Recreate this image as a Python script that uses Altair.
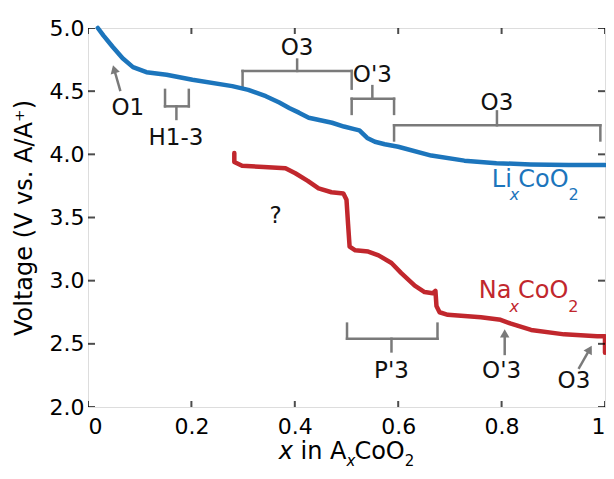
import math
import altair as alt
import pandas as pd

# ---------------- data ----------------
li_x = [0.019, 0.030, 0.048, 0.067, 0.087, 0.113, 0.152, 0.202, 0.279, 0.310, 0.344, 0.370,
        0.390, 0.408, 0.427, 0.472, 0.495, 0.515, 0.525, 0.540, 0.555, 0.574, 0.600, 0.664,
        0.728, 0.790, 0.856, 0.930, 1.000]
li_v = [5.00, 4.94, 4.85, 4.76, 4.69, 4.65, 4.63, 4.59, 4.54, 4.51, 4.46, 4.41,
        4.365, 4.33, 4.29, 4.25, 4.22, 4.20, 4.19, 4.13, 4.10, 4.08, 4.06, 3.99,
        3.95, 3.93, 3.92, 3.915, 3.915]

na_x = [0.283, 0.283, 0.298, 0.340, 0.382, 0.401, 0.425, 0.446, 0.471, 0.494, 0.500,
        0.503, 0.506, 0.517, 0.542, 0.562, 0.587, 0.606, 0.632, 0.651, 0.667, 0.672,
        0.674, 0.680, 0.696, 0.760, 0.798, 0.818, 0.857, 0.921, 0.985, 1.000, 1.000]
na_v = [4.01, 3.94, 3.91, 3.90, 3.89, 3.85, 3.79, 3.73, 3.70, 3.69, 3.64,
        3.45, 3.27, 3.24, 3.23, 3.20, 3.14, 3.06, 2.96, 2.91, 2.90, 2.92,
        2.80, 2.75, 2.73, 2.71, 2.69, 2.66, 2.61, 2.575, 2.56, 2.56, 2.43]

x_ticks = [0, 0.2, 0.4, 0.6, 0.8, 1.0]
y_ticks = [2.0, 2.5, 3.0, 3.5, 4.0, 4.5, 5.0]

# brackets: left x, right x, bar y, end y, stem x, stem end y
br_xl = [0.149, 0.299, 0.510, 0.592, 0.501]
br_xr = [0.195, 0.510, 0.592, 0.991, 0.676]
br_bar = [4.38, 4.66, 4.44, 4.23, 2.54]
br_end = [4.51, 4.52, 4.32, 4.11, 2.66]
br_stem_x = [0.171, 0.4045, 0.550, 0.791, 0.587]
br_stem_y = [4.28, 4.75, 4.54, 4.34, 2.44]

# arrows: tail -> tip
ar_tail_x = [0.062, 0.806, 0.950]
ar_tail_y = [4.51, 2.42, 2.31]
ar_tip_x = [0.048, 0.806, 0.975]
ar_tip_y = [4.71, 2.62, 2.49]

# phase labels
lab_text = ["O1", "H1-3", "O3", "O'3", "O3", "?", "P'3", "O'3", "O3"]
lab_x = [0.077, 0.170, 0.4045, 0.550, 0.791, 0.363, 0.587, 0.800, 0.940]
lab_y = [4.31, 4.07, 4.79, 4.57, 4.35, 3.46, 2.23, 2.23, 2.15]

# ---------------- style ----------------
W, H = 517, 379
XD, YD = (0, 1), (2, 5)
PX = W / (XD[1] - XD[0])
PY = H / (YD[1] - YD[0])
FONT = "DejaVu Sans"
BLUE, RED, GRAY = "#1c75bc", "#c1272d", "#7a7a7a"

xs = alt.Scale(domain=list(XD), nice=False, zero=False)
ys = alt.Scale(domain=list(YD), nice=False, zero=False)

curves = pd.DataFrame({
    "x": li_x + na_x,
    "v": li_v + na_v,
    "s": ["Li"] * len(li_x) + ["Na"] * len(na_x),
    "o": list(range(len(li_x))) + list(range(len(na_x))),
})

lines = alt.Chart(curves).mark_line(strokeWidth=4.5, strokeJoin="round", strokeCap="round").encode(
    x=alt.X("x:Q", scale=xs, axis=alt.Axis(
        values=x_ticks, title=None, domain=False, ticks=False, grid=False,
        labelExpr="datum.value == 0 ? '0' : datum.value == 1 ? '1' : format(datum.value, '.1f')",
        labelFont=FONT, labelFontSize=22, labelColor="black", labelPadding=9)),
    y=alt.Y("v:Q", scale=ys, axis=alt.Axis(
        values=y_ticks, format=".1f", title="Voltage (V vs. A/A\u207a)", domain=False,
        ticks=False, grid=False, labelFont=FONT, labelFontSize=22, labelColor="black",
        labelPadding=4, titleFont=FONT, titleFontSize=24, titleFontWeight="normal",
        titleColor="black", titlePadding=13)),
    color=alt.Color("s:N", scale=alt.Scale(domain=["Li", "Na"], range=[BLUE, RED]), legend=None),
    order="o:Q",
)

# bracket segments
seg = {"x": [], "y": [], "x2": [], "y2": []}
def add(a, b, c, d):
    seg["x"].append(a); seg["y"].append(b); seg["x2"].append(c); seg["y2"].append(d)
for xl, xr, yb, ye, sx, sy in zip(br_xl, br_xr, br_bar, br_end, br_stem_x, br_stem_y):
    add(xl, ye, xl, yb)
    add(xr, ye, xr, yb)
    add(xl, yb, xr, yb)
    add(sx, yb, sx, sy)

# arrows
HEAD = 90
r = math.sqrt(HEAD) / 2
head = {"x": [], "y": [], "a": []}
for tx, ty, hx, hy in zip(ar_tail_x, ar_tail_y, ar_tip_x, ar_tip_y):
    dxp = (hx - tx) * PX
    dyp = -(hy - ty) * PY
    L = math.hypot(dxp, dyp)
    ux, uy = dxp / L, dyp / L
    ang = math.degrees(math.atan2(ux, -uy)) % 360
    cx = hx - ux * r / PX
    cy = hy + uy * r / PY
    head["x"].append(cx); head["y"].append(cy); head["a"].append(ang)
    add(tx, ty, cx, cy)

segdf = pd.DataFrame(seg)
rules = alt.Chart(segdf).mark_rule(color=GRAY, strokeWidth=2.5, strokeCap="square").encode(
    x=alt.X("x:Q", scale=xs), y=alt.Y("y:Q", scale=ys), x2="x2:Q", y2="y2:Q")

heads = alt.Chart(pd.DataFrame(head)).mark_point(
    shape="triangle-up", filled=True, color=GRAY, size=HEAD, opacity=1).encode(
    x=alt.X("x:Q", scale=xs), y=alt.Y("y:Q", scale=ys), angle=alt.Angle("a:Q", scale=None))

labels = alt.Chart(pd.DataFrame({"t": lab_text, "x": lab_x, "y": lab_y})).mark_text(
    font=FONT, fontSize=23, color="#111111", align="center", baseline="alphabetic").encode(
    x=alt.X("x:Q", scale=xs), y=alt.Y("y:Q", scale=ys), text="t:N")

# ticks inside the frame
tl = alt.Chart(pd.DataFrame({"v": y_ticks})).mark_tick(
    orient="horizontal", size=14, thickness=2, color="black", clip=True).encode(
    y=alt.Y("v:Q", scale=ys), x=alt.value(0))
tr = alt.Chart(pd.DataFrame({"v": y_ticks})).mark_tick(
    orient="horizontal", size=14, thickness=2, color="black", clip=True).encode(
    y=alt.Y("v:Q", scale=ys), x=alt.value(W))
tb = alt.Chart(pd.DataFrame({"v": x_ticks})).mark_tick(
    orient="vertical", size=12, thickness=2, color="black", clip=True).encode(
    x=alt.X("v:Q", scale=xs), y=alt.value(H))
tt = alt.Chart(pd.DataFrame({"v": x_ticks})).mark_tick(
    orient="vertical", size=12, thickness=2, color="black", clip=True).encode(
    x=alt.X("v:Q", scale=xs), y=alt.value(0))

# rich text (subscripts / italics); advance widths of DejaVu Sans (em)
WID = {"x": 0.592, " ": 0.318, "i": 0.278, "n": 0.634, "A": 0.684, "C": 0.698, "o": 0.612,
       "O": 0.787, "2": 0.636, "L": 0.557, "N": 0.748, "a": 0.613}
def width(t, s):
    return sum(WID.get(c, 0.6) for c in t) * s

def rich(pieces, color, ax=None, ay=None, px0=None, py0=None):
    # pieces: (text, size, italic, dy, gap_before_px)
    layers = []
    off = 0.0
    for t, s, it, dy, gap in pieces:
        off += gap
        kw = dict(font=FONT, fontSize=s, color=color, align="left", baseline="alphabetic",
                  dx=off, dy=dy)
        if it:
            kw["fontStyle"] = "italic"
        if ax is not None:
            ch = alt.Chart(pd.DataFrame({"x": [ax], "y": [ay], "t": [t]})).mark_text(**kw).encode(
                x=alt.X("x:Q", scale=xs), y=alt.Y("y:Q", scale=ys), text="t:N")
        else:
            ch = alt.Chart(pd.DataFrame({"t": [t]})).mark_text(**kw).encode(
                x=alt.value(px0), y=alt.value(py0), text="t:N")
        layers.append(ch)
        off += width(t, s)
    return layers

li_label = rich([("Li", 24, False, 0, 0), ("x", 16, True, 13, -2), ("CoO", 24, False, 0, -1),
                 ("2", 16, False, 13, 0)], BLUE, ax=0.781, ay=3.74)
na_label = rich([("Na", 24, False, 0, 0), ("x", 16, True, 14, -2), ("CoO", 24, False, 0, -1),
                 ("2", 16, False, 14, 0)], RED, ax=0.756, ay=2.86)
xt_pieces = [("x", 24, True, 0, 0), ("in A", 24, False, 0, width(" ", 24)),
             ("x", 15, True, 7, 0), ("CoO", 24, False, 0, -1), ("2", 15, False, 7, 0)]
xt_w = sum(width(t, s) + g for t, s, _, _, g in xt_pieces)
x_title = rich(xt_pieces, "black", px0=W / 2 - xt_w / 2, py0=H + 52)

chart = alt.layer(
    rules, heads, lines, labels, tl, tr, tb, tt, *li_label, *na_label, *x_title
).properties(
    width=W, height=H,
    autosize=alt.AutoSizeParams(type="none"),
    padding={"left": 80, "top": 20, "right": 1, "bottom": 64},
).configure_view(stroke="black", strokeWidth=2).configure(background="white")

chart.save("out.html", embed_options={"renderer": "svg", "actions": False})
